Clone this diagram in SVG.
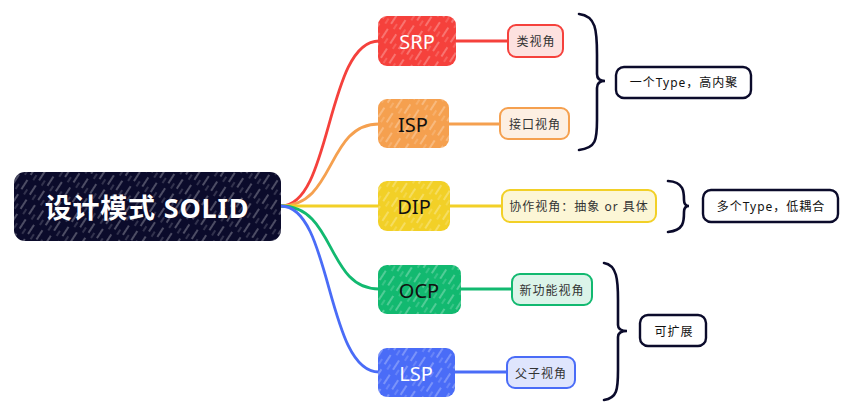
<svg xmlns="http://www.w3.org/2000/svg" width="852" height="415" viewBox="0 0 852 415">
<defs>
<pattern id="hatch" width="10" height="17" patternUnits="userSpaceOnUse" patternTransform="rotate(33)">
<line x1="1" y1="0" x2="1" y2="11" stroke="#ffffff" stroke-width="0.9" stroke-opacity="0.6"/>
<line x1="6" y1="8" x2="6" y2="14" stroke="#ffffff" stroke-width="0.8" stroke-opacity="0.4"/>
</pattern>
<style>
.conn{fill:none;stroke-width:2.8;stroke-linecap:round}
.brace{fill:none;stroke:#0b0b2b;stroke-width:2.6;stroke-linecap:round}
.root{fill:#0b0b2b}
.leaf{stroke-width:2}
.sum{fill:#ffffff;stroke:#0b0b2b;stroke-width:2.4}
.t{font-family:"Noto Sans","Noto Sans CJK SC",sans-serif;text-anchor:middle;dominant-baseline:central}
.bt{font-size:20px}
.lt{font-size:12px;fill:#333333;letter-spacing:1px}
.st{font-size:12px;fill:#111111;letter-spacing:1px}
</style>
</defs>
<rect width="852" height="415" fill="#ffffff"/>
<g id="connectors">
<path class="conn" stroke="#f5413c" d="M281,206 C332,206 326,41 379,41"/>
<path class="conn" stroke="#f5a04f" d="M281,206 C336,206 326,124 379,124"/>
<path class="conn" stroke="#f2d027" d="M281,206 L379,206"/>
<path class="conn" stroke="#12b970" d="M281,206 C336,206 326,289 379,289"/>
<path class="conn" stroke="#4a6cf7" d="M281,206 C332,206 326,372 379,372"/>
<line class="conn" stroke="#f5413c" x1="456" y1="41" x2="508" y2="41"/>
<line class="conn" stroke="#f5a04f" x1="449" y1="124" x2="500" y2="124"/>
<line class="conn" stroke="#f2d027" x1="450" y1="206" x2="502" y2="206"/>
<line class="conn" stroke="#12b970" x1="461" y1="289" x2="512" y2="289"/>
<line class="conn" stroke="#4a6cf7" x1="455" y1="372" x2="507" y2="372"/>
<path class="brace" d="M579,14 C596,16 597,30 597,55 L597,74 Q597,81 605,81 Q597,81 597,88 L597,120 C597,140 596,148 579,150"/>
<path class="brace" d="M668,181 C684,182 684,192 684,200 Q684,206 689,206 Q684,206 684,212 C684,222 684,230 668,232"/>
<path class="brace" d="M604,263 C617,265 618,280 618,300 L618,325 Q618,331 627,331 Q618,331 618,337 L618,370 C618,390 617,398 604,400"/>
</g>
<g id="root">
<rect class="root" x="14" y="172" width="267" height="69" rx="11"/>
<rect x="14" y="172" width="267" height="69" rx="11" fill="url(#hatch)"/>
<text class="t" x="147" y="207" font-size="27" font-weight="bold" fill="#ffffff" letter-spacing="0.8">设计模式 SOLID</text>
</g>
<g id="srp">
<rect x="378" y="16" width="78" height="50" rx="9" fill="#f5413c"/>
<rect x="378" y="16" width="78" height="50" rx="9" fill="url(#hatch)"/>
<text class="t bt" x="417" y="41" fill="#ffffff">SRP</text>
</g>
<g id="isp">
<rect x="378" y="99" width="71" height="49" rx="9" fill="#f5a04f"/>
<rect x="378" y="99" width="71" height="49" rx="9" fill="url(#hatch)"/>
<text class="t bt" x="413" y="124" fill="#111111">ISP</text>
</g>
<g id="dip">
<rect x="378" y="181" width="72" height="50" rx="9" fill="#f2d027"/>
<rect x="378" y="181" width="72" height="50" rx="9" fill="url(#hatch)"/>
<text class="t bt" x="414" y="206" fill="#111111">DIP</text>
</g>
<g id="ocp">
<rect x="378" y="265" width="83" height="49" rx="9" fill="#12b970"/>
<rect x="378" y="265" width="83" height="49" rx="9" fill="url(#hatch)"/>
<text class="t bt" x="419" y="290" fill="#111111">OCP</text>
</g>
<g id="lsp">
<rect x="378" y="348" width="77" height="49" rx="9" fill="#4a6cf7"/>
<rect x="378" y="348" width="77" height="49" rx="9" fill="url(#hatch)"/>
<text class="t bt" x="416" y="373" fill="#ffffff">LSP</text>
</g>
<g id="leaf-srp">
<rect class="leaf" x="508" y="25" width="55" height="32" rx="8" fill="#fde1df" stroke="#f5413c"/>
<text class="t lt" x="536" y="41">类视角</text>
</g>
<g id="leaf-isp">
<rect class="leaf" x="500" y="108" width="69" height="31" rx="8" fill="#fdefe2" stroke="#f5a04f"/>
<text class="t lt" x="535" y="124">接口视角</text>
</g>
<g id="leaf-dip">
<rect class="leaf" x="502" y="190" width="154" height="32" rx="8" fill="#fcf6d6" stroke="#f2d027"/>
<text class="t lt" x="579" y="206">协作视角：抽象 or 具体</text>
</g>
<g id="leaf-ocp">
<rect class="leaf" x="512" y="274" width="80" height="31" rx="8" fill="#dbf4e9" stroke="#12b970"/>
<text class="t lt" x="552" y="290">新功能视角</text>
</g>
<g id="leaf-lsp">
<rect class="leaf" x="507" y="357" width="68" height="31" rx="8" fill="#dfe5fd" stroke="#4a6cf7"/>
<text class="t lt" x="541" y="373">父子视角</text>
</g>
<g id="sum-1">
<rect class="sum" x="616" y="67" width="135" height="31" rx="8"/>
<text class="t st" x="684" y="82">一个Type，高内聚</text>
</g>
<g id="sum-2">
<rect class="sum" x="703" y="190" width="135" height="32" rx="8"/>
<text class="t st" x="771" y="206">多个Type，低耦合</text>
</g>
<g id="sum-3">
<rect class="sum" x="640" y="315" width="66" height="31" rx="8"/>
<text class="t st" x="674" y="331">可扩展</text>
</g>
</svg>
